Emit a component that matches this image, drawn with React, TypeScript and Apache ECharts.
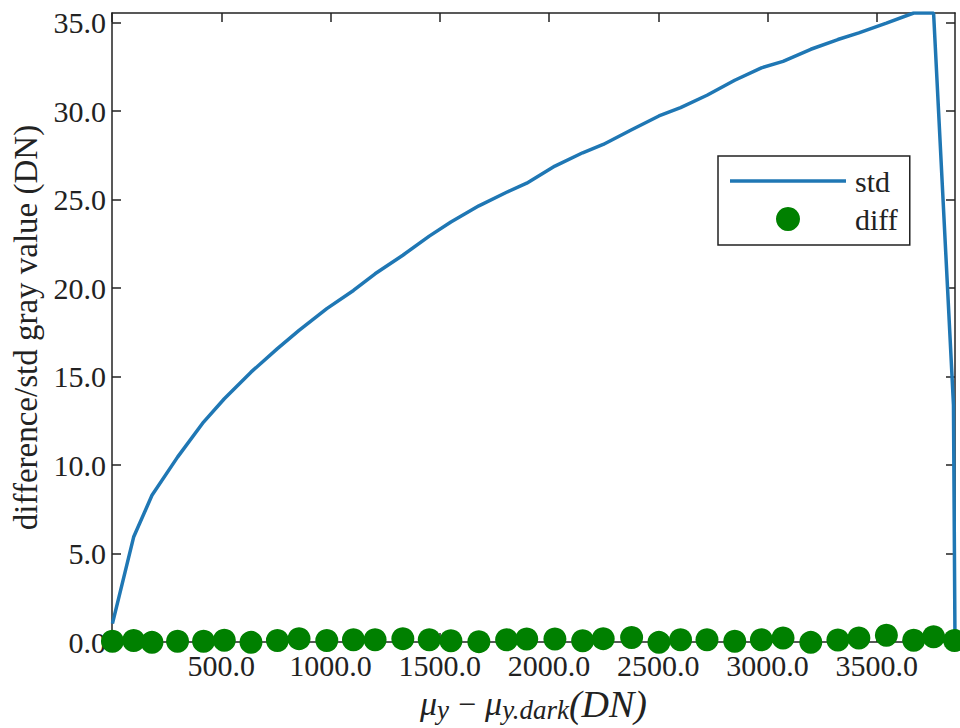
import React, { useEffect, useRef } from "react";
import * as echarts from "echarts";

const diffX = [2, 99, 183, 300, 419, 514, 636, 757, 856, 983, 1105, 1204, 1331, 1452, 1551, 1679, 1806, 1898, 2027, 2154, 2248, 2378, 2503, 2602, 2723, 2850, 2972, 3071, 3198, 3322, 3418, 3544, 3669, 3760, 3856];
const diffValues = [0.04, 0.08, -0.02, 0.04, 0.04, 0.1, -0.02, 0.08, 0.19, 0.08, 0.13, 0.13, 0.19, 0.13, 0.075, 0.02, 0.13, 0.17, 0.17, 0.075, 0.19, 0.25, -0.02, 0.13, 0.13, 0.04, 0.13, 0.23, -0.02, 0.11, 0.23, 0.38, 0.1, 0.3, 0.08];
const stdX = [2, 99, 183, 300, 419, 514, 636, 757, 856, 983, 1105, 1204, 1331, 1452, 1551, 1679, 1806, 1898, 2027, 2154, 2248, 2378, 2503, 2602, 2723, 2850, 2972, 3071, 3198, 3322, 3418, 3544, 3669, 3760, 3851, 3858];
const stdValues = [1.04, 5.93, 8.29, 10.45, 12.43, 13.75, 15.25, 16.58, 17.61, 18.84, 19.87, 20.81, 21.86, 22.94, 23.74, 24.65, 25.42, 25.93, 26.9, 27.65, 28.12, 28.95, 29.73, 30.2, 30.9, 31.75, 32.45, 32.82, 33.5, 34.05, 34.43, 34.98, 35.55, 35.55, 13.4, 0];
const xTickLabels = [500, 1000, 1500, 2000, 2500, 3000, 3500];
const xTicks = [0, 500, 1000, 1500, 2000, 2500, 3000, 3500];
const yTicks = [0, 5, 10, 15, 20, 25, 30, 35];

const FONT = "'Liberation Serif', 'DejaVu Serif', serif";
const INK = "#222222";

export default function App() {
  const ref = useRef<HTMLDivElement>(null);
  useEffect(() => {
    if (!ref.current) return;
    const chart = echarts.init(ref.current, undefined, { renderer: "svg" });
    const axisLine = { show: true, onZero: false, lineStyle: { color: INK, width: 1.5 } };
    const tick = { show: true, inside: true, length: 9, lineStyle: { color: INK, width: 1.5 } };
    const xMin = 0, xMax = 3858, yMin = 0, yMax = 35.55;
    chart.setOption({
      animation: false,
      grid: { left: 112, right: 5, top: 13, bottom: 86, outerBoundsMode: "none", containLabel: false },
      legend: {
        orient: "vertical",
        left: 718,
        top: 156,
        padding: [10, 12, 11, 12],
        itemWidth: 116,
        itemHeight: 24,
        itemGap: 8,
        borderColor: INK,
        borderWidth: 1.5,
        borderRadius: 0,
        backgroundColor: "#ffffff",
        textStyle: { fontFamily: FONT, fontSize: 30, lineHeight: 30, color: INK, padding: [0, 0, 0, 4] },
        data: [
          { name: "std", icon: "path://M0,0H116V3.5H0Z" },
          { name: "diff", icon: "circle" },
        ],
      },
      xAxis: [
        {
          type: "value",
          position: "bottom",
          min: xMin,
          max: xMax,
          interval: 500,
          axisLine,
          axisTick: { ...tick, customValues: xTicks },
          splitLine: { show: false },
          axisLabel: {
            customValues: xTickLabels,
            formatter: (v: number) => v.toFixed(1),
            fontFamily: FONT,
            fontSize: 30,
            color: INK,
            margin: 8,
          },
          name: "{i|μ}{s|y}{m|−}{i|μ}{s|y.dark}{p|(DN)}",
          nameLocation: "middle",
          nameGap: 40,
          nameTextStyle: {
            rich: {
              i: { fontFamily: FONT, fontStyle: "italic", fontSize: 34, lineHeight: 40, color: INK, verticalAlign: "middle" },
              m: { fontFamily: FONT, fontSize: 32, lineHeight: 40, color: INK, verticalAlign: "middle", padding: [0, 9, 0, 9] },
              s: { fontFamily: FONT, fontStyle: "italic", fontSize: 27, lineHeight: 27, color: INK, verticalAlign: "bottom" },
              p: { fontFamily: FONT, fontStyle: "italic", fontSize: 38, lineHeight: 40, color: INK, verticalAlign: "middle" },
            },
          },
        },
        {
          type: "value",
          position: "top",
          min: xMin,
          max: xMax,
          interval: 500,
          axisLine,
          axisTick: { ...tick, customValues: xTicks },
          axisLabel: { show: false },
          splitLine: { show: false },
        },
      ],
      yAxis: [
        {
          type: "value",
          position: "left",
          min: yMin,
          max: yMax,
          interval: 5,
          axisLine,
          axisTick: { ...tick, customValues: yTicks },
          splitLine: { show: false },
          axisLabel: {
            customValues: yTicks,
            formatter: (v: number) => v.toFixed(1),
            fontFamily: FONT,
            fontSize: 30,
            color: INK,
            margin: 6,
          },
          name: "difference/std gray value (DN)",
          nameLocation: "middle",
          nameGap: 70,
          nameTextStyle: { fontFamily: FONT, fontSize: 33, color: INK },
        },
        {
          type: "value",
          position: "right",
          min: yMin,
          max: yMax,
          interval: 5,
          axisLine,
          axisTick: { ...tick, customValues: yTicks },
          axisLabel: { show: false },
          splitLine: { show: false },
        },
      ],
      series: [
        {
          name: "std",
          type: "line",
          data: stdX.map((x, i) => [x, stdValues[i]]),
          symbol: "none",
          clip: true,
          lineStyle: { color: "#1f77b4", width: 3.5 },
          itemStyle: { color: "#1f77b4" },
          z: 2,
        },
        {
          name: "diff",
          type: "scatter",
          data: diffX.map((x, i) => [x, diffValues[i]]),
          symbol: "circle",
          symbolSize: 23,
          itemStyle: { color: "#008000", opacity: 1 },
          clip: false,
          z: 3,
        },
      ],
    });
    return () => chart.dispose();
  }, []);
  return <div ref={ref} style={{ position: "absolute", left: 0, top: 0, width: 960, height: 728 }} />;
}
